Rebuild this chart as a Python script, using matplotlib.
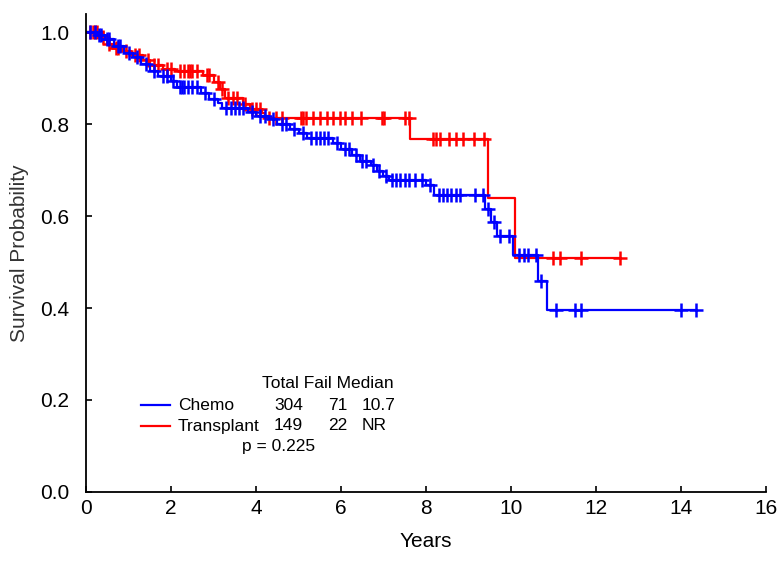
import numpy as np
import matplotlib
matplotlib.use('Agg')
import matplotlib.pyplot as plt
from matplotlib.lines import Line2D

plt.rcParams['font.family'] = ['Liberation Sans', 'DejaVu Sans']

# Kaplan-Meier steps (time in years, survival after step)
chemo_t = [0.25, 0.45, 0.65, 0.9, 1.1, 1.3, 1.5, 1.7, 2.0, 2.15, 2.7, 2.9, 3.1, 3.2,
           3.8, 4.0, 4.3, 4.5, 4.8, 5.0, 5.2, 5.8, 6.0, 6.25, 6.45, 6.7, 6.85, 7.0,
           7.13, 8.0, 8.2, 9.4, 9.52, 9.68, 10.05, 10.64, 10.86]
chemo_s = [0.993, 0.985, 0.97, 0.955, 0.945, 0.93, 0.915, 0.905, 0.893, 0.88, 0.868,
           0.855, 0.845, 0.834, 0.826, 0.818, 0.81, 0.80, 0.79, 0.78, 0.77, 0.758,
           0.745, 0.732, 0.72, 0.71, 0.697, 0.687, 0.679, 0.668, 0.646, 0.616, 0.588,
           0.556, 0.516, 0.458, 0.396]
chemo_end = 14.36
chemo_cens = [0.1, 0.2, 0.3, 0.35, 0.5, 0.55, 0.75, 0.8, 1.0, 1.2, 1.4, 1.6, 1.8, 1.9,
              2.05, 2.2, 2.25, 2.3, 2.4, 2.5, 2.6, 2.8, 3.0, 3.3, 3.4, 3.5, 3.6, 3.7,
              3.9, 4.1, 4.2, 4.4, 4.6, 4.7, 4.9, 5.1, 5.3, 5.4, 5.5, 5.6, 5.7, 5.9,
              6.1, 6.2, 6.35, 6.5, 6.6, 6.75, 6.9, 7.05, 7.2, 7.3, 7.4, 7.5, 7.6,
              7.75, 7.9, 8.1, 8.3, 8.4, 8.5, 8.6, 8.7, 8.8, 9.15, 9.35, 9.45, 9.6,
              9.75, 9.95, 10.2, 10.3, 10.4, 10.6, 10.7, 11.05, 11.5, 11.65, 14.0, 14.36]

trans_t = [0.3, 0.5, 0.62, 0.85, 1.05, 1.35, 1.5, 1.8, 2.1, 2.75, 3.0, 3.15, 3.27,
           3.7, 3.85, 4.15, 4.2, 7.62, 9.45, 10.1]
trans_s = [0.99, 0.975, 0.965, 0.958, 0.95, 0.94, 0.928, 0.92, 0.915, 0.906, 0.892,
           0.877, 0.857, 0.843, 0.832, 0.825, 0.813, 0.768, 0.639, 0.509]
trans_end = 12.57
trans_cens = [0.1, 0.15, 0.2, 0.25, 0.4, 0.55, 0.7, 0.75, 0.95, 1.15, 1.25, 1.45, 1.6,
              1.7, 1.9, 2.0, 2.2, 2.3, 2.4, 2.45, 2.5, 2.6, 2.85, 2.9, 3.1, 3.2, 3.35,
              3.45, 3.55, 3.75, 3.9, 4.0, 4.1, 4.3, 4.46, 4.62, 5.06, 5.11, 5.17,
              5.33, 5.5, 5.66, 5.82, 5.98, 6.09, 6.26, 6.47, 6.96, 7.02, 7.51, 7.6,
              8.16, 8.24, 8.32, 8.54, 8.7, 8.87, 9.14, 9.36, 10.99, 11.15, 11.64, 12.57]

groups = ['Chemo', 'Transplant']
totals = ['304', '149']
fails = ['71', '22']
medians = ['10.7', 'NR']
p_text = 'p = 0.225'


def km_curve(ax, t, s, end, cens, color):
    x = np.concatenate([[0.0], t, [end]])
    y = np.concatenate([[1.0], s, [s[-1]]])
    ax.step(x, y, where='post', color=color, lw=1.6)
    idx = np.searchsorted(t, cens, side='right')
    ys = np.concatenate([[1.0], s])[idx]
    ax.plot(cens, ys, ls='none', marker='+', ms=10, mew=1.8, color=color)


fig = plt.figure(figsize=(7.83, 5.72), dpi=100)
ax = fig.add_axes([0.110, 0.140, 0.868, 0.836])

km_curve(ax, trans_t, trans_s, trans_end, trans_cens, '#ff0000')
km_curve(ax, chemo_t, chemo_s, chemo_end, chemo_cens, '#0000ff')

ax.set_xlim(0, 16)
ax.set_ylim(0, 1.04)
ax.set_xticks(np.arange(0, 17, 2))
ax.set_yticks(np.arange(0, 1.01, 0.2))
ax.set_yticklabels(['%.1f' % v for v in np.arange(0, 1.01, 0.2)])
ax.spines['top'].set_visible(False)
ax.spines['right'].set_visible(False)
ax.spines['left'].set_linewidth(1.3)
ax.spines['bottom'].set_linewidth(1.3)
ax.tick_params(direction='in', length=4, width=1.2, labelsize=15)
ax.tick_params(axis='y', pad=12)
ax.tick_params(axis='x', pad=5)
ax.set_xlabel('Years', fontsize=15, labelpad=10)
ax.set_ylabel('Survival Probability', fontsize=15, color='#333333', labelpad=8)

# legend block
W, H = 783.0, 572.0
def fx(px):
    return px / W
def fy(py):
    return 1 - py / H

fig.text(fx(262), fy(383), 'Total Fail Median', fontsize=12.5, va='center')
colors = ['#0000ff', '#ff0000']
rows = [405, 426]
for i in range(2):
    fig.add_artist(Line2D([fx(141), fx(170)], [fy(rows[i]), fy(rows[i])],
                          color=colors[i], lw=1.6))
    fig.text(fx(178), fy(rows[i]), groups[i], fontsize=12.5, va='center')
    fig.text(fx(274), fy(rows[i]), totals[i], fontsize=12.5, va='center')
    fig.text(fx(328), fy(rows[i]), fails[i], fontsize=12.5, va='center')
    fig.text(fx(362), fy(rows[i]), medians[i], fontsize=12.5, va='center')
fig.text(fx(242), fy(447), p_text, fontsize=12.5, va='center')

fig.savefig('out.png', dpi=100)
